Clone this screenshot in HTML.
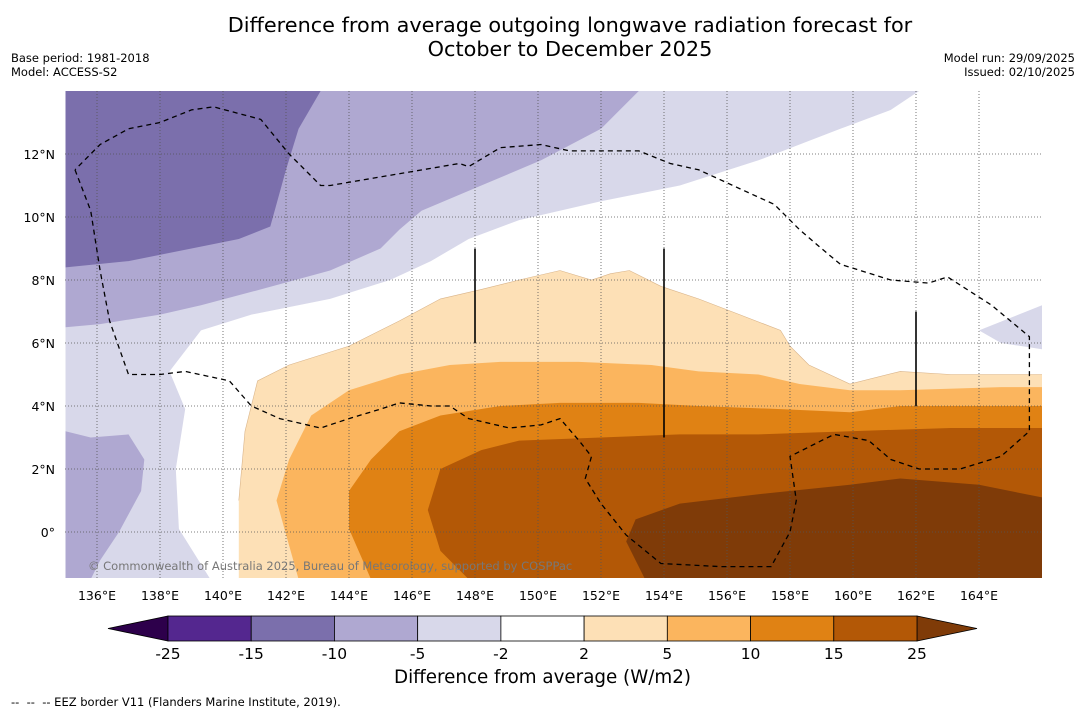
<!DOCTYPE html>
<html><head><meta charset="utf-8">
<style>
body{margin:0;background:#fff;font-family:"DejaVu Sans","Liberation Sans",sans-serif;}
#wrap{position:relative;width:1085px;height:713px;overflow:hidden;}
.t{position:absolute;white-space:nowrap;color:#000;}
</style></head>
<body>
<div id="wrap">
<div class="t" style="left:0;width:1140px;text-align:center;top:14px;font-size:20.8px;line-height:23.5px;">Difference from average outgoing longwave radiation forecast for<br>October to December 2025</div>
<div class="t" style="left:11px;top:51px;font-size:11.5px;line-height:14px;">Base period: 1981-2018<br>Model: ACCESS-S2</div>
<div class="t" style="right:10px;top:51px;font-size:11.5px;line-height:14px;text-align:right;">Model run: 29/09/2025<br>Issued: 02/10/2025</div>
<svg id="map" width="1085" height="713" style="position:absolute;left:0;top:0"></svg>
<div class="t" style="left:0;width:1085px;text-align:center;top:667px;font-size:18.3px;">Difference from average (W/m2)</div>
<div class="t" style="left:11px;top:695px;font-size:11.5px;">-- &nbsp;-- &nbsp;-- EEZ border V11 (Flanders Marine Institute, 2019).</div>
</div>
<script>
const lonTicks=[136,138,140,142,144,146,148,150,152,154,156,158,160,162,164];
const latTicks=[0,2,4,6,8,10,12];
const cbLevels=[-25,-15,-10,-5,-2,2,5,10,15,25];
const cbColors=["#54278f","#7b6fac","#afa8d1","#d8d8ea","#ffffff","#fde0b6","#fbb55e","#e08214","#b35806"];
const lightPurple=[[135,14],[162.1,14],[161.2,13.4],[159.6,12.8],[157.0,11.8],[154.5,11.0],[152.0,10.5],[149.4,9.9],[147.8,9.3],[146.6,8.6],[145.3,8.0],[143.4,7.4],[140.9,6.9],[139.3,6.4],[138.3,5.1],[138.8,3.9],[138.5,2.0],[138.6,0.1],[139.6,-1.5],[135,-1.5]];
const lightPurple2=[[164.0,6.4],[166,7.2],[166,5.8],[164.7,6.0]];
const medPurple=[[135,14],[153.2,14],[152.0,12.8],[150.1,11.8],[148.2,11.0],[146.3,10.2],[145.6,9.6],[145.0,9.0],[143.4,8.3],[141.2,7.7],[139.3,7.2],[138.0,6.9],[136.1,6.6],[135,6.5]];
const medPurple2=[[135,3.2],[135.8,3.0],[137.0,3.1],[137.5,2.3],[137.4,1.3],[136.7,0.0],[136.1,-0.9],[135.8,-1.5],[135,-1.5]];
const darkPurple=[[135,14],[143.1,14],[142.4,12.8],[142.0,11.5],[141.5,9.7],[140.5,9.3],[139.0,9.0],[137.0,8.6],[135,8.4]];
const orange1=[[140.5,-1.5],[140.5,1.0],[140.7,3.2],[141.1,4.8],[142.1,5.3],[144.0,5.9],[145.6,6.7],[146.9,7.4],[148.2,7.7],[149.4,8.0],[150.7,8.3],[151.7,8.0],[152.3,8.2],[152.9,8.3],[153.9,7.8],[155.1,7.4],[156.4,6.9],[157.7,6.4],[158.0,5.9],[158.6,5.3],[159.9,4.7],[161.5,5.1],[163.1,5.0],[164.7,5.0],[166,5.0],[166,-1.5]];
const orange2=[[142.4,-1.5],[141.7,1.0],[142.1,2.3],[142.8,3.7],[144.0,4.5],[145.6,5.0],[147.2,5.3],[148.8,5.4],[151.3,5.4],[153.6,5.3],[155.1,5.1],[157.0,5.0],[158.3,4.7],[159.9,4.5],[161.5,4.5],[164.7,4.6],[166,4.6],[166,-1.5]];
const orange3=[[144.7,-1.5],[144.0,0.1],[144.0,1.3],[144.7,2.3],[145.6,3.2],[146.9,3.7],[148.8,4.0],[150.7,4.1],[153.2,4.1],[155.1,4.0],[157.7,3.9],[159.9,3.8],[161.5,4.0],[166,4.0],[166,-1.5]];
const orange4=[[147.8,-1.5],[146.9,-0.6],[146.5,0.7],[146.9,2.0],[148.2,2.6],[149.4,2.9],[152.0,3.0],[154.5,3.1],[157.0,3.1],[159.9,3.2],[163.1,3.3],[166,3.3],[166,-1.5]];
const orange5=[[153.4,-1.5],[152.8,-0.3],[153.1,0.4],[154.5,0.9],[157.0,1.2],[159.9,1.5],[161.5,1.7],[164.0,1.5],[166,1.1],[166,-1.5]];
const eez=[[135.3,11.5],[135.8,10.2],[136.1,8.3],[136.4,6.7],[137.0,5.0],[138.0,5.0],[138.8,5.1],[140.2,4.8],[140.9,4.0],[141.8,3.6],[143.1,3.3],[144.0,3.6],[145.0,3.9],[145.6,4.1],[146.6,4.0],[147.2,4.0],[147.8,3.6],[149.1,3.3],[150.1,3.4],[150.7,3.6],[151.3,2.9],[151.7,2.4],[151.5,1.7],[152.0,0.9],[152.8,-0.1],[153.9,-1.0],[155.8,-1.1],[157.4,-1.1],[158.0,0.0],[158.2,1.0],[158.0,2.4],[159.0,2.9],[159.4,3.1],[160.5,2.9],[161.2,2.3],[162.1,2.0],[163.4,2.0],[164.7,2.4],[165.6,3.2],[165.6,6.2],[164.4,7.2],[163.0,8.1],[162.4,7.9],[161.2,8.0],[159.6,8.5],[159.0,9.0],[158.3,9.6],[157.5,10.4],[156.4,10.9],[155.1,11.5],[154.2,11.7],[153.2,12.1],[152.0,12.1],[151.0,12.1],[150.1,12.3],[148.8,12.2],[147.8,11.6],[147.5,11.7],[143.4,11.0],[143.1,11.0],[142.1,12.0],[141.2,13.1],[139.7,13.5],[139.0,13.4],[138.0,13.0],[137.0,12.8],[136.1,12.3],[135.3,11.5]];
const vlines=[[148,9,6],[154,9,3],[162,7,4]];

const NS="http://www.w3.org/2000/svg";
const FONT='DejaVu Sans, Liberation Sans, sans-serif';
const svg=document.getElementById('map');
const X0=65.5,Y0=91,PX=31.5,LON0=135,LAT0=14;
const xs=lon=>X0+(lon-LON0)*PX;
const ys=lat=>Y0+(LAT0-lat)*PX;
function mk(t,a){const e=document.createElementNS(NS,t);for(const k in a)e.setAttribute(k,a[k]);svg.appendChild(e);return e;}
function pts(arr){return arr.map(p=>xs(p[0]).toFixed(1)+","+ys(p[1]).toFixed(1)).join(" ");}

const clip=mk('clipPath',{id:'mc'});
const cr=document.createElementNS(NS,'rect');cr.setAttribute('x',65);cr.setAttribute('y',91);cr.setAttribute('width',977);cr.setAttribute('height',487);clip.appendChild(cr);

const g=mk('g',{'clip-path':'url(#mc)'});
function poly(arr,fill,name){const p=document.createElementNS(NS,'polygon');p.setAttribute('points',pts(arr));p.setAttribute('fill',fill);


g.appendChild(p);}
const bg=document.createElementNS(NS,'rect');bg.setAttribute('x',65);bg.setAttribute('y',91);bg.setAttribute('width',977);bg.setAttribute('height',487);bg.setAttribute('fill','#fff');g.appendChild(bg);
poly(lightPurple,cbColors[3],'region-minus5-minus2');
poly(lightPurple2,cbColors[3],'region-minus5-minus2-east');
poly(medPurple,cbColors[2],'region-minus10-minus5');
poly(medPurple2,cbColors[2],'region-minus10-minus5-south');
poly(darkPurple,cbColors[1],'region-minus15-minus10');
poly(orange1,cbColors[5],'region-2-5');
poly(orange2,cbColors[6],'region-5-10');
poly(orange3,cbColors[7],'region-10-15');
poly(orange4,cbColors[8],'region-15-25');
poly(orange5,'#7f3b08','region-above-25');
[orange1].forEach(a=>{const p=document.createElementNS(NS,'polyline');p.setAttribute('points',pts(a.slice(1,-1)));p.setAttribute('fill','none');p.setAttribute('stroke','#d9b48a');p.setAttribute('stroke-width','0.6');g.appendChild(p);});

lonTicks.forEach(lon=>{const l=document.createElementNS(NS,'line');l.setAttribute('x1',xs(lon));l.setAttribute('x2',xs(lon));l.setAttribute('y1',91);l.setAttribute('y2',578);l.setAttribute('stroke','#555');l.setAttribute('stroke-dasharray','1,2');l.setAttribute('stroke-width','0.8');


g.appendChild(l);});
latTicks.forEach(lat=>{const l=document.createElementNS(NS,'line');l.setAttribute('x1',65);l.setAttribute('x2',1042);l.setAttribute('y1',ys(lat));l.setAttribute('y2',ys(lat));l.setAttribute('stroke','#555');l.setAttribute('stroke-dasharray','1,2');l.setAttribute('stroke-width','0.8');


g.appendChild(l);});

const ez=document.createElementNS(NS,'polyline');ez.setAttribute('points',pts(eez));ez.setAttribute('fill','none');ez.setAttribute('stroke','#000');ez.setAttribute('stroke-width','1.3');ez.setAttribute('stroke-dasharray','5,4');


g.appendChild(ez);
vlines.forEach(v=>{const l=document.createElementNS(NS,'line');l.setAttribute('x1',xs(v[0]));l.setAttribute('x2',xs(v[0]));l.setAttribute('y1',ys(v[1]));l.setAttribute('y2',ys(v[2]));l.setAttribute('stroke','#000');l.setAttribute('stroke-width','1.6');


g.appendChild(l);});
const cp=document.createElementNS(NS,'text');cp.setAttribute('x',88);cp.setAttribute('y',570);cp.setAttribute('font-size','11.5');cp.setAttribute('fill','#777');cp.setAttribute('font-family',FONT);cp.textContent='© Commonwealth of Australia 2025, Bureau of Meteorology, supported by COSPPac';


g.appendChild(cp);

lonTicks.forEach(lon=>{const t=mk('text',{x:xs(lon),y:600,'font-size':12.5,'text-anchor':'middle','font-family':FONT});t.textContent=lon+'°E';

});
latTicks.forEach(lat=>{const t=mk('text',{x:55,y:ys(lat)+5,'font-size':12.5,'text-anchor':'end','font-family':FONT});t.textContent=lat===0?'0°':lat+'°N';

});

const cbX0=168,cbX1=917,cbY=616,cbH=25;
const cbW=(cbX1-cbX0)/(cbLevels.length-1);
const cbx=i=>cbX0+i*cbW;
const lt=mk('polygon',{points:`108,${cbY+cbH/2} ${cbX0},${cbY} ${cbX0},${cbY+cbH}`,fill:'#2d004b',stroke:'#000','stroke-width':0.8});


const rt=mk('polygon',{points:`977,${cbY+cbH/2} ${cbX1},${cbY} ${cbX1},${cbY+cbH}`,fill:'#7f3b08',stroke:'#000','stroke-width':0.8});


cbColors.forEach((c,i)=>{const r=mk('rect',{x:cbx(i),y:cbY,width:cbW,height:cbH,fill:c,stroke:'#000','stroke-width':0.8});

});
cbLevels.forEach((v,i)=>{const t=mk('text',{x:cbx(i),y:659,'font-size':15.5,'text-anchor':'middle','font-family':FONT});t.textContent=v;

});
</script>
</body></html>
